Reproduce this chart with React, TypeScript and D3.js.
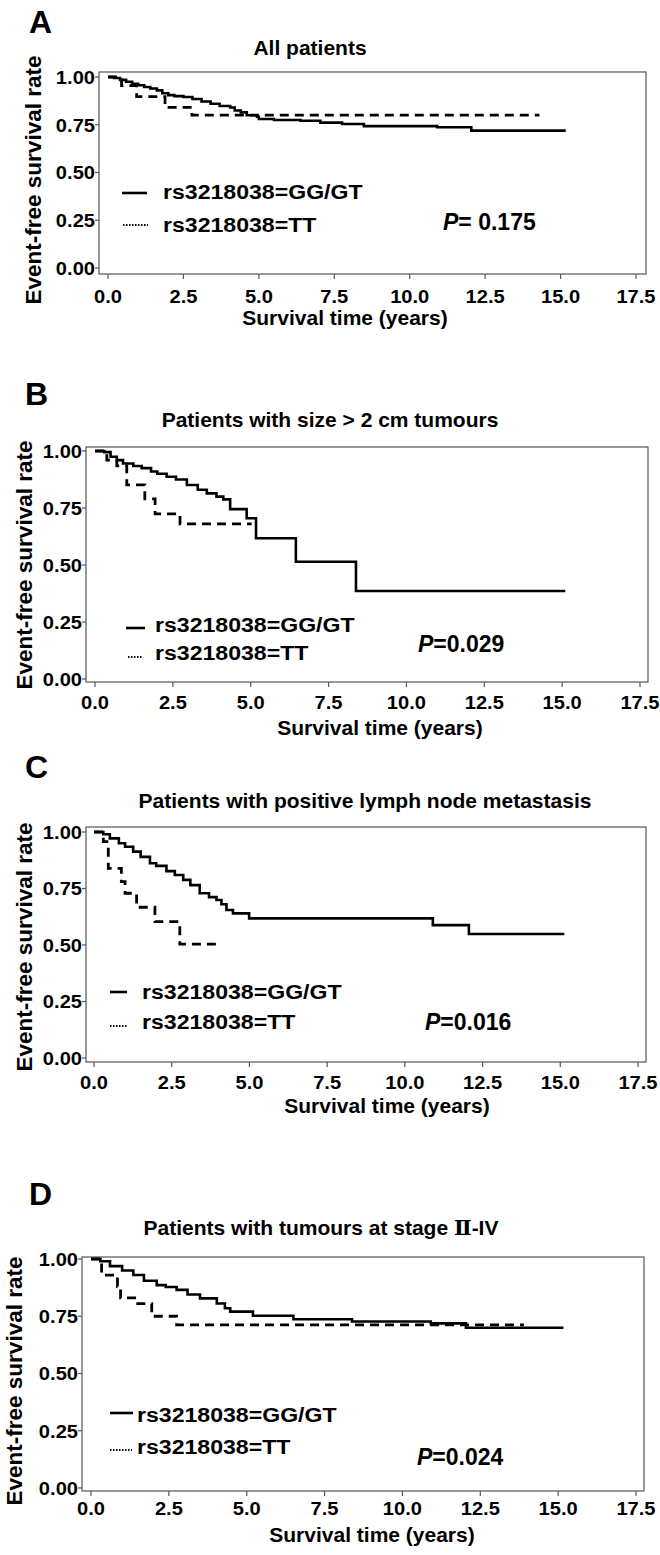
import React from "react";
import * as d3 from "d3";

const FONT = '"Liberation Sans", Arial, Helvetica, sans-serif';

// ---- data ----
const xTicks = [0, 2.5, 5, 7.5, 10, 12.5, 15, 17.5];
const yTicks = [0, 0.25, 0.5, 0.75, 1];
const panelLetters = ["A", "B", "C", "D"];
const titles = [
  "All patients",
  "Patients with size > 2 cm tumours",
  "Patients with positive lymph node metastasis",
  "Patients with tumours at stage Ⅱ-IV",
];
const pValues = ["0.175", "0.029", "0.016", "0.024"];
const pSeparators = ["= ", "=", "=", "="];
const legendLabels = ["rs3218038=GG/GT", "rs3218038=TT"];
const xAxisTitle = "Survival time (years)";
const yAxisTitle = "Event-free survival rate";

// Panel A
const aSolidTime = [0, 0.2, 0.4, 0.6, 0.8, 1.0, 1.2, 1.4, 1.62, 1.8, 2.0, 2.2, 2.5, 2.8, 3.1, 3.4, 3.7, 4.05, 4.2, 4.4, 4.6, 4.94, 5.0, 5.5, 6.38, 7.04, 7.76, 8.48, 10.91, 12.04, 15.17];
const aSolidSurv = [1, 0.995, 0.985, 0.975, 0.965, 0.957, 0.948, 0.94, 0.93, 0.915, 0.905, 0.9, 0.895, 0.885, 0.872, 0.86, 0.848, 0.84, 0.825, 0.815, 0.8, 0.792, 0.78, 0.775, 0.771, 0.761, 0.754, 0.743, 0.737, 0.719, 0.719];
const aDashTime = [0, 0.45, 0.95, 1.89, 2.78, 14.3];
const aDashSurv = [1, 0.955, 0.897, 0.841, 0.8, 0.8];

// Panel B
const bSolidTime = [0, 0.3, 0.5, 0.7, 0.9, 1.23, 1.5, 1.8, 2.0, 2.3, 2.6, 2.95, 3.3, 3.59, 3.9, 4.12, 4.34, 4.87, 5.17, 6.45, 8.38, 15.1];
const bSolidSurv = [1, 0.995, 0.975, 0.96, 0.945, 0.934, 0.925, 0.91, 0.9, 0.887, 0.875, 0.851, 0.83, 0.814, 0.8, 0.788, 0.745, 0.705, 0.617, 0.514, 0.386, 0.386];
const bDashTime = [0, 0.38, 0.7, 1.02, 1.6, 1.93, 2.73, 5.03];
const bDashSurv = [1, 0.96, 0.935, 0.851, 0.79, 0.724, 0.68, 0.68];

// Panel C
const cSolidTime = [0, 0.3, 0.51, 0.8, 1.0, 1.26, 1.5, 1.8, 2.0, 2.33, 2.6, 2.87, 3.1, 3.4, 3.7, 3.94, 4.1, 4.26, 4.47, 4.99, 10.9, 12.06, 15.13];
const cSolidSurv = [1, 0.99, 0.972, 0.95, 0.935, 0.913, 0.89, 0.862, 0.85, 0.827, 0.81, 0.788, 0.765, 0.729, 0.712, 0.699, 0.68, 0.655, 0.64, 0.618, 0.588, 0.549, 0.549];
const cDashTime = [0, 0.3, 0.46, 0.88, 1.0, 1.37, 1.96, 2.76, 4.05];
const cDashSurv = [1, 0.957, 0.839, 0.78, 0.729, 0.667, 0.603, 0.504, 0.504];

// Panel D
const dSolidTime = [0, 0.3, 0.61, 1.0, 1.36, 1.7, 2.11, 2.4, 2.75, 3.1, 3.5, 4.04, 4.3, 4.47, 5.2, 6.5, 8.38, 10.91, 12.04, 15.17];
const dSolidSurv = [1, 0.99, 0.969, 0.95, 0.93, 0.905, 0.886, 0.878, 0.865, 0.845, 0.828, 0.806, 0.785, 0.77, 0.752, 0.737, 0.727, 0.719, 0.7, 0.7];
const dDashTime = [0, 0.34, 0.85, 0.95, 1.5, 1.95, 2.75, 13.9];
const dDashSurv = [1, 0.93, 0.88, 0.83, 0.805, 0.75, 0.712, 0.712];

const solidTimes = [aSolidTime, bSolidTime, cSolidTime, dSolidTime];
const solidSurvs = [aSolidSurv, bSolidSurv, cSolidSurv, dSolidSurv];
const dashTimes = [aDashTime, bDashTime, cDashTime, dDashTime];
const dashSurvs = [aDashSurv, bDashSurv, cDashSurv, dDashSurv];

// ---- layout (pixel geometry per panel) ----
const layouts = [
  { frameL: 99, frameR: 646, frameT: 72, frameB: 274, x0: 108, xMax: 636, y0: 268, y1: 77, tickLabelDy: 29,
    letter: [29, 33], title: [310, 55], yLabelX: 41, yLabelY: 180, xLabel: [345, 325],
    legSolid: [122, 147, 193], legText1: [163, 198.5], legDot: [123, 148, 225], legText2: [163, 232], p: [443, 230] },
  { frameL: 86, frameR: 648, frameT: 447, frameB: 682, x0: 95, xMax: 640, y0: 679, y1: 451, tickLabelDy: 27,
    letter: [25, 405], title: [330, 427], yLabelX: 32, yLabelY: 565, xLabel: [380, 735],
    legSolid: [126, 145, 628], legText1: [155, 632], legDot: [128, 143, 657], legText2: [155, 660], p: [418, 652] },
  { frameL: 86, frameR: 646, frameT: 827, frameB: 1062, x0: 94, xMax: 638, y0: 1058, y1: 832, tickLabelDy: 27,
    letter: [25, 778], title: [365, 808], yLabelX: 32, yLabelY: 947, xLabel: [387, 1113],
    legSolid: [110, 127, 992], legText1: [142, 999], legDot: [110, 127, 1026], legText2: [142, 1029], p: [425, 1030] },
  { frameL: 82, frameR: 644, frameT: 1257, frameB: 1491, x0: 91, xMax: 636, y0: 1488, y1: 1259, tickLabelDy: 24,
    letter: [29, 1205], title: [321, 1235], yLabelX: 22, yLabelY: 1381, xLabel: [372, 1542],
    legSolid: [110, 133, 1413], legText1: [137, 1422], legDot: [110, 132, 1450], legText2: [137, 1454], p: [417, 1465] },
];

const TICK_FS = 18.8;
const TICK_SX = 1.07;
const LEG_FS = 21;
const LEG_SX = 1.1;

function SText({ x, y, sx = 1, size, anchor = "start", children, weight = "bold" }: any) {
  return (
    <text
      transform={`translate(${x},${y}) scale(${sx},1)`}
      textAnchor={anchor}
      fontFamily={FONT}
      fontWeight={weight}
      fontSize={size}
      fill="#000"
    >
      {children}
    </text>
  );
}

function renderTitle(s: string) {
  const idx = s.indexOf("Ⅱ");
  if (idx < 0) return s;
  return (
    <>
      <tspan>{s.slice(0, idx)}</tspan>
      <tspan fontFamily='"DejaVu Serif", "Liberation Serif", serif' fontWeight="bold">Ⅱ</tspan>
      <tspan>{s.slice(idx + 1)}</tspan>
    </>
  );
}

function Panel({ i }: { i: number }) {
  const L = layouts[i];
  const x = d3.scaleLinear().domain([0, 17.5]).range([L.x0, L.xMax]);
  const y = d3.scaleLinear().domain([0, 1]).range([L.y0, L.y1]);
  const line = d3
    .line<[number, number]>()
    .x((d) => x(d[0]))
    .y((d) => y(d[1]))
    .curve(d3.curveStepAfter);
  const solid = solidTimes[i].map((t, k) => [t, solidSurvs[i][k]] as [number, number]);
  const dashed = dashTimes[i].map((t, k) => [t, dashSurvs[i][k]] as [number, number]);
  const fx = d3.format(".1f");
  const fy = d3.format(".2f");
  return (
    <g>
      <SText x={L.letter[0]} y={L.letter[1]} size={32}>{panelLetters[i]}</SText>
      <SText x={L.title[0]} y={L.title[1]} size={21} anchor="middle">{renderTitle(titles[i])}</SText>
      <rect x={L.frameL} y={L.frameT} width={L.frameR - L.frameL} height={L.frameB - L.frameT}
        fill="none" stroke="#555" strokeWidth={1.2} />
      {yTicks.map((v) => (
        <g key={"y" + v}>
          <line x1={L.frameL - 4} x2={L.frameL} y1={y(v)} y2={y(v)} stroke="#555" strokeWidth={1.2} />
          <SText x={L.frameL - 4} y={y(v) + 6.8} size={TICK_FS} sx={TICK_SX} anchor="end">{fy(v)}</SText>
        </g>
      ))}
      {xTicks.map((v) => (
        <g key={"x" + v}>
          <line x1={x(v)} x2={x(v)} y1={L.frameB} y2={L.frameB + 5} stroke="#555" strokeWidth={1.2} />
          <SText x={x(v)} y={L.frameB + L.tickLabelDy} size={TICK_FS} sx={TICK_SX} anchor="middle">{fx(v)}</SText>
        </g>
      ))}
      <g transform={`translate(${L.yLabelX},${L.yLabelY}) rotate(-90)`}>
        <text textAnchor="middle" fontFamily={FONT} fontWeight="bold" fontSize={22.5}>{yAxisTitle}</text>
      </g>
      <SText x={L.xLabel[0]} y={L.xLabel[1]} size={21} anchor="middle">{xAxisTitle}</SText>
      <path d={line(dashed) || ""} fill="none" stroke="#000" strokeWidth={2.8} strokeDasharray="9,6" />
      <path d={line(solid) || ""} fill="none" stroke="#000" strokeWidth={2.6} />
      <line x1={L.legSolid[0]} x2={L.legSolid[1]} y1={L.legSolid[2]} y2={L.legSolid[2]} stroke="#000" strokeWidth={2.6} />
      <SText x={L.legText1[0]} y={L.legText1[1]} size={LEG_FS} sx={LEG_SX}>{legendLabels[0]}</SText>
      <line x1={L.legDot[0]} x2={L.legDot[1]} y1={L.legDot[2]} y2={L.legDot[2]} stroke="#000" strokeWidth={2} strokeDasharray="1.5,1.5" />
      <SText x={L.legText2[0]} y={L.legText2[1]} size={LEG_FS} sx={LEG_SX}>{legendLabels[1]}</SText>
      <SText x={L.p[0]} y={L.p[1]} size={23}>
        <tspan fontStyle="italic">P</tspan>
        <tspan>{pSeparators[i] + pValues[i]}</tspan>
      </SText>
    </g>
  );
}

export default function App() {
  return (
    <svg width={660} height={1555} viewBox="0 0 660 1555"
      style={{ position: "absolute", left: 0, top: 0, background: "#fff" }}>
      <rect width={660} height={1555} fill="#fff" />
      {layouts.map((_, i) => <Panel key={i} i={i} />)}
    </svg>
  );
}
